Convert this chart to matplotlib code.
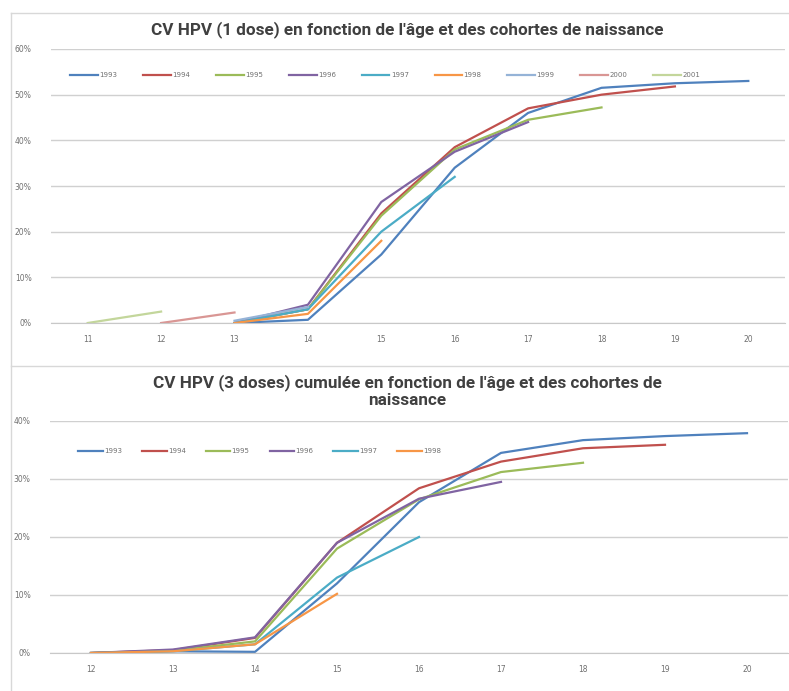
import matplotlib
matplotlib.use("Agg")
import matplotlib.pyplot as plt
import numpy as np
from matplotlib.lines import Line2D

nan = np.nan

# --- data : couverture vaccinale HPV (%) par age et cohorte de naissance ---
ages_1dose = [11, 12, 13, 14, 15, 16, 17, 18, 19, 20]
cohorts_1dose = ["1993", "1994", "1995", "1996", "1997", "1998", "1999", "2000", "2001"]
cv_1dose = {
    "1993": [nan, nan, 0.0, 0.7, 15.0, 34.0, 46.0, 51.5, 52.5, 53.0],
    "1994": [nan, nan, 0.0, 3.0, 24.0, 38.5, 47.0, 50.0, 51.8, nan],
    "1995": [nan, nan, 0.0, 3.0, 23.5, 38.0, 44.5, 47.2, nan, nan],
    "1996": [nan, nan, 0.0, 4.0, 26.5, 37.5, 44.0, nan, nan, nan],
    "1997": [nan, nan, 0.0, 3.0, 20.0, 32.0, nan, nan, nan, nan],
    "1998": [nan, nan, 0.0, 2.0, 18.0, nan, nan, nan, nan, nan],
    "1999": [nan, nan, 0.5, 3.5, nan, nan, nan, nan, nan, nan],
    "2000": [nan, 0.0, 2.3, nan, nan, nan, nan, nan, nan, nan],
    "2001": [0.0, 2.5, nan, nan, nan, nan, nan, nan, nan, nan],
}

ages_3doses = [12, 13, 14, 15, 16, 17, 18, 19, 20]
cohorts_3doses = ["1993", "1994", "1995", "1996", "1997", "1998"]
cv_3doses = {
    "1993": [0.0, 0.3, 0.2, 12.0, 26.0, 34.5, 36.7, 37.4, 37.9],
    "1994": [0.0, 0.5, 2.6, 19.0, 28.4, 33.0, 35.3, 35.9, nan],
    "1995": [0.0, 0.4, 2.0, 18.0, 26.5, 31.2, 32.8, nan, nan],
    "1996": [0.0, 0.6, 2.7, 19.0, 26.6, 29.5, nan, nan, nan],
    "1997": [0.0, 0.3, 1.5, 13.0, 20.0, nan, nan, nan, nan],
    "1998": [0.0, 0.3, 1.5, 10.2, nan, nan, nan, nan, nan],
}

colors = {
    "1993": "#4F81BD", "1994": "#C0504D", "1995": "#9BBB59",
    "1996": "#8064A2", "1997": "#4BACC6", "1998": "#F79646",
    "1999": "#95B3D7", "2000": "#D99694", "2001": "#C3D69B",
}

title_1 = "CV HPV (1 dose) en fonction de l'âge et des cohortes de naissance"
title_2 = "CV HPV (3 doses) cumulée en fonction de l'âge et des cohortes de\nnaissance"

W, H = 789, 691
fig = plt.figure(figsize=(W / 100, H / 100), dpi=100)
fig.patch.set_facecolor("white")


def px(x0, y0, x1, y1):
    # pixel box (top-left origin) -> figure fraction rect
    return [x0 / W, 1 - y1 / H, (x1 - x0) / W, (y1 - y0) / H]


def style_axes(ax, ymax):
    ax.set_ylim(0, ymax)
    ax.set_yticks(np.arange(0, ymax + 1, 10))
    ax.set_yticklabels(["%d%%" % v for v in np.arange(0, ymax + 1, 10)])
    ax.grid(axis="y", color="#D0D0D0", lw=1.0)
    ax.set_axisbelow(True)
    for s in ["top", "right", "left"]:
        ax.spines[s].set_visible(False)
    ax.spines["bottom"].set_color("#C8C8C8")
    ax.tick_params(axis="both", length=0, labelsize=5.5, labelcolor="#707070")
    ax.tick_params(axis="x", pad=9)
    ax.tick_params(axis="y", pad=14)


# top chart : 1 dose
ax1 = fig.add_axes(px(51, 49, 785, 323))
for c in cohorts_1dose:
    ax1.plot(ages_1dose, cv_1dose[c], color=colors[c], lw=1.6, label=c)
ax1.set_xlim(10.5, 20.5)
ax1.set_xticks(ages_1dose)
style_axes(ax1, 60)
ax1.legend(ncol=9, loc="center left", bbox_to_anchor=(0.018, 0.905), frameon=False,
           fontsize=5, handlelength=4.0, columnspacing=3.7, handletextpad=0.2,
           labelcolor="#707070")
fig.text(407 / W, 1 - 30 / H, title_1, ha="center", va="center", family="Roboto",
         fontsize=12.3, fontweight="bold", color="#404040")

# bottom chart : 3 doses
ax2 = fig.add_axes(px(50, 421, 788, 653))
for c in cohorts_3doses:
    ax2.plot(ages_3doses, cv_3doses[c], color=colors[c], lw=1.6, label=c)
ax2.set_xlim(11.5, 20.5)
ax2.set_xticks(ages_3doses)
style_axes(ax2, 40)
ax2.legend(ncol=6, loc="center left", bbox_to_anchor=(0.03, 0.87), frameon=False,
           fontsize=5, handlelength=3.5, columnspacing=2.9, handletextpad=0.2,
           labelcolor="#707070")
fig.text(407 / W, 1 - 391 / H, title_2, ha="center", va="center", family="Roboto",
         fontsize=12.3, fontweight="bold", color="#404040", linespacing=1.15)

# chart borders (frame lines of the two Excel charts)
bc = "#D8D8D8"
fig.add_artist(Line2D([11 / W, 11 / W], [0, 1 - 13 / H], color=bc, lw=1))
fig.add_artist(Line2D([11 / W, 1], [1 - 13 / H, 1 - 13 / H], color=bc, lw=1))
fig.add_artist(Line2D([11 / W, 1], [1 - 366 / H, 1 - 366 / H], color=bc, lw=1))

fig.savefig("out.png", dpi=100)
